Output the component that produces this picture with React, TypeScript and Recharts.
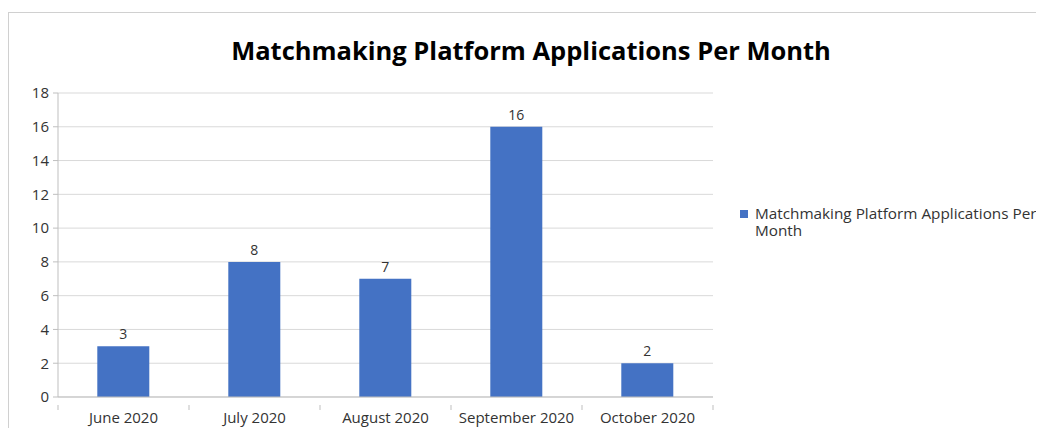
import React from "react";
import { BarChart, Bar, XAxis, YAxis, CartesianGrid, LabelList } from "recharts";

const months = ["June 2020", "July 2020", "August 2020", "September 2020", "October 2020"];
const applications = [3, 8, 7, 16, 2];
const yTicks = [0, 2, 4, 6, 8, 10, 12, 14, 16, 18];
const seriesName = "Matchmaking Platform Applications Per Month";
const chartTitle = "Matchmaking Platform Applications Per Month";

const data = months.map((m, i) => ({ month: m, value: applications[i] }));

const FONT = "'Open Sans', 'Liberation Sans', sans-serif";
const TEXT = "#333333";
const AXIS = "#bfbfbf";
const GRID = "#d9d9d9";
const BAR = "#4472C4";

const CategoryTick = (props: any) => {
  const { x, y, payload, index } = props;
  const half = payload && payload.offset ? payload.offset : 65.5;
  return (
    <g>
      <line x1={x - half} y1={y} x2={x - half} y2={y + 5} stroke={AXIS} />
      {index === months.length - 1 && (
        <line x1={x + half} y1={y} x2={x + half} y2={y + 5} stroke={AXIS} />
      )}
      <text x={x} y={y + 18} textAnchor="middle" fill={TEXT} fontSize={15} fontFamily={FONT}>
        {payload.value}
      </text>
    </g>
  );
};

export default function App() {
  return (
    <div style={{ position: "relative", width: 1036, height: 416, marginTop: 4, overflow: "visible" }}>
      <style>{"body{overflow:hidden}"}</style>
      <div
        style={{
          position: "absolute",
          left: 0,
          top: 0,
          width: 1060,
          height: 440,
          border: "1px solid #d0d0d0",
          boxSizing: "border-box",
          background: "#fff",
        }}
      />
      <div style={{ position: "absolute", left: 1, top: 1 }}>
        <BarChart
          width={1040}
          height={420}
          data={data}
          margin={{ top: 80, right: 336, bottom: 6, left: 0 }}
          barCategoryGap="30%"
        >
          <CartesianGrid vertical={false} stroke={GRID} />
          <XAxis
            dataKey="month"
            axisLine={{ stroke: AXIS }}
            tickLine={false}
            height={30}
            interval={0}
            tick={<CategoryTick />}
          />
          <YAxis
            domain={[0, 18]}
            ticks={yTicks}
            width={49}
            axisLine={{ stroke: AXIS }}
            tickLine={{ stroke: AXIS }}
            tickSize={5}
            tickMargin={4}
            interval={0}
            tick={{ fill: TEXT, fontSize: 15, fontFamily: FONT }}
          />
          <Bar dataKey="value" name={seriesName} fill={BAR} isAnimationActive={false}>
            <LabelList dataKey="value" position="top" offset={7} fill={TEXT} fontSize={14} fontFamily={FONT} />
          </Bar>
        </BarChart>
      </div>
      <div
        style={{
          position: "absolute",
          left: 0,
          top: 21,
          width: 1046,
          textAlign: "center",
          fontFamily: FONT,
          fontWeight: 700,
          fontSize: 25.5,
          color: "#000",
        }}
      >
        {chartTitle}
      </div>
      <div
        style={{
          position: "absolute",
          left: 732,
          top: 193,
          display: "flex",
          alignItems: "flex-start",
          fontFamily: FONT,
          fontSize: 15.3,
          color: TEXT,
          lineHeight: "17px",
        }}
      >
        <div style={{ width: 8, height: 8, background: BAR, marginTop: 5, marginRight: 7 }} />
        <div style={{ width: 295 }}>{seriesName}</div>
      </div>
    </div>
  );
}
